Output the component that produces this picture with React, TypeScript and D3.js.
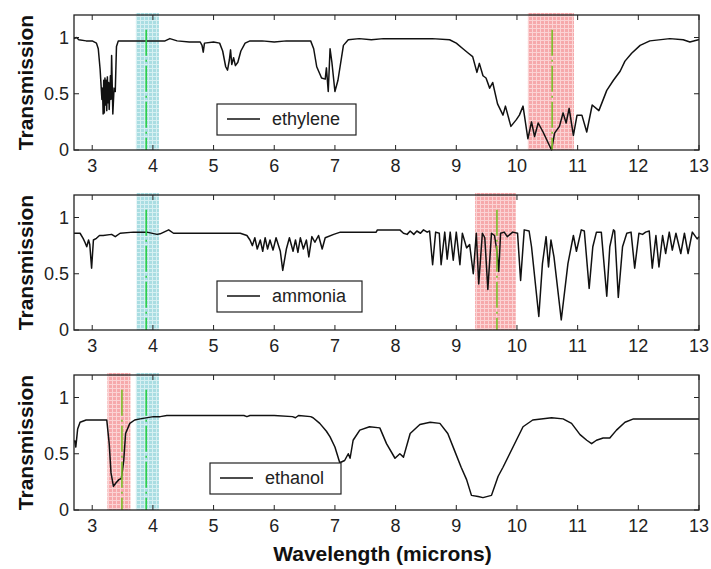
import React from "react";
import * as d3 from "d3";

// [wavelength (microns), transmission]
const ethylene: [number, number][] = [
  [2.7, 0.99], [2.74, 1.0], [2.78, 0.98], [2.9, 0.97], [3.0, 0.97], [3.07, 0.95], [3.1, 0.9],
  [3.13, 0.72], [3.16, 0.45], [3.17, 0.55], [3.18, 0.32], [3.19, 0.62], [3.2, 0.33], [3.21, 0.64],
  [3.22, 0.4], [3.23, 0.62], [3.24, 0.35], [3.25, 0.65], [3.26, 0.42], [3.27, 0.6], [3.28, 0.36],
  [3.3, 0.66], [3.31, 0.45], [3.32, 0.84], [3.34, 0.32], [3.36, 0.55], [3.38, 0.52], [3.4, 0.92],
  [3.43, 0.97], [4.2, 0.97], [4.28, 0.99], [4.4, 0.97], [4.6, 0.96], [4.78, 0.96], [4.81, 0.93],
  [4.83, 0.87], [4.85, 0.95], [5.0, 0.96], [5.1, 0.95], [5.15, 0.88], [5.2, 0.74], [5.23, 0.71],
  [5.26, 0.8], [5.28, 0.89], [5.3, 0.76], [5.33, 0.82], [5.36, 0.75], [5.4, 0.78], [5.45, 0.88],
  [5.52, 0.95], [5.6, 0.97], [5.8, 0.97], [6.0, 0.96], [6.2, 0.97], [6.4, 0.97], [6.6, 0.97],
  [6.65, 0.9], [6.7, 0.74], [6.78, 0.64], [6.84, 0.63], [6.86, 0.73], [6.89, 0.52], [6.92, 0.9],
  [6.95, 0.78], [7.0, 0.52], [7.05, 0.62], [7.14, 0.93], [7.22, 0.98], [7.4, 0.99], [7.6, 0.98],
  [7.8, 0.99], [8.0, 0.99], [8.3, 0.99], [8.6, 0.99], [8.89, 0.98], [9.0, 0.95], [9.11, 0.9],
  [9.2, 0.86], [9.27, 0.83], [9.34, 0.69], [9.38, 0.77], [9.44, 0.66], [9.49, 0.64], [9.55, 0.55],
  [9.6, 0.6], [9.68, 0.41], [9.77, 0.31], [9.81, 0.39], [9.9, 0.21], [9.99, 0.27], [10.04, 0.31],
  [10.1, 0.39], [10.18, 0.1], [10.24, 0.25], [10.29, 0.12], [10.35, 0.24], [10.43, 0.16],
  [10.57, 0.0], [10.62, 0.15], [10.7, 0.21], [10.76, 0.33], [10.81, 0.24], [10.86, 0.37],
  [10.93, 0.13], [10.99, 0.31], [11.07, 0.31], [11.15, 0.16], [11.24, 0.4], [11.35, 0.35],
  [11.48, 0.53], [11.59, 0.62], [11.7, 0.7], [11.78, 0.79], [11.89, 0.86], [12.03, 0.93],
  [12.19, 0.97], [12.52, 0.99], [12.74, 0.98], [12.85, 0.96], [12.99, 0.98], [13.0, 0.98],
];

const ammonia: [number, number][] = [
  [2.7, 0.86], [2.8, 0.86], [2.85, 0.815], [2.88, 0.78], [2.91, 0.74], [2.94, 0.8], [2.96, 0.76],
  [2.99, 0.55], [3.02, 0.8], [3.07, 0.815], [3.12, 0.84], [3.18, 0.84], [3.32, 0.85], [3.38, 0.83],
  [3.46, 0.86], [3.68, 0.87], [3.9, 0.87], [4.07, 0.85], [4.12, 0.855], [4.26, 0.89], [4.34, 0.86],
  [5.44, 0.86], [5.55, 0.84], [5.6, 0.8], [5.64, 0.75], [5.68, 0.82], [5.72, 0.72], [5.77, 0.8],
  [5.81, 0.7], [5.85, 0.82], [5.89, 0.72], [5.93, 0.8], [5.98, 0.71], [6.03, 0.82], [6.1, 0.7],
  [6.14, 0.53], [6.2, 0.72], [6.25, 0.82], [6.31, 0.7], [6.35, 0.8], [6.39, 0.69], [6.43, 0.82],
  [6.48, 0.72], [6.53, 0.8], [6.57, 0.65], [6.62, 0.83], [6.67, 0.78], [6.73, 0.84], [6.79, 0.72],
  [6.84, 0.82], [6.98, 0.85], [7.09, 0.87], [7.68, 0.87], [7.7, 0.89], [8.07, 0.89], [8.13, 0.86],
  [8.19, 0.85], [8.24, 0.88], [8.3, 0.85], [8.35, 0.88], [8.41, 0.86], [8.46, 0.89], [8.52, 0.87],
  [8.56, 0.88], [8.61, 0.58], [8.66, 0.87], [8.72, 0.86], [8.75, 0.58], [8.81, 0.87], [8.85, 0.63],
  [8.9, 0.87], [8.95, 0.62], [9.0, 0.87], [9.06, 0.58], [9.1, 0.86], [9.17, 0.73], [9.22, 0.76],
  [9.28, 0.5], [9.33, 0.86], [9.37, 0.41], [9.43, 0.86], [9.47, 0.82], [9.52, 0.36], [9.58, 0.86],
  [9.63, 0.84], [9.67, 0.7], [9.7, 0.52], [9.73, 0.86], [9.79, 0.87], [9.84, 0.83], [9.93, 0.87],
  [10.01, 0.86], [10.06, 0.44], [10.12, 0.89], [10.2, 0.88], [10.24, 0.74], [10.36, 0.12],
  [10.42, 0.59], [10.48, 0.83], [10.52, 0.56], [10.56, 0.8], [10.61, 0.65], [10.73, 0.09],
  [10.84, 0.59], [10.93, 0.84], [10.98, 0.7], [11.06, 0.89], [11.11, 0.88], [11.19, 0.37],
  [11.25, 0.74], [11.31, 0.87], [11.39, 0.87], [11.48, 0.3], [11.53, 0.74], [11.59, 0.89],
  [11.61, 0.88], [11.67, 0.29], [11.74, 0.74], [11.81, 0.86], [11.88, 0.87], [11.94, 0.55],
  [12.01, 0.86], [12.07, 0.85], [12.12, 0.87], [12.18, 0.88], [12.23, 0.55], [12.29, 0.84],
  [12.34, 0.56], [12.4, 0.84], [12.45, 0.68], [12.51, 0.87], [12.56, 0.71], [12.62, 0.86],
  [12.7, 0.68], [12.76, 0.86], [12.82, 0.68], [12.89, 0.87], [12.97, 0.81], [13.0, 0.83],
];

const ethanol: [number, number][] = [
  [2.71, 0.62], [2.73, 0.56], [2.76, 0.72], [2.8, 0.78], [2.9, 0.8], [3.0, 0.8], [3.1, 0.8],
  [3.24, 0.8], [3.28, 0.59], [3.31, 0.33], [3.35, 0.21], [3.39, 0.24], [3.44, 0.27], [3.48, 0.28],
  [3.52, 0.44], [3.55, 0.68], [3.62, 0.77], [3.7, 0.8], [3.79, 0.81], [4.01, 0.83], [4.12, 0.83],
  [4.23, 0.84], [4.6, 0.84], [5.0, 0.84], [5.5, 0.84], [5.55, 0.83], [5.6, 0.84], [6.0, 0.84],
  [6.3, 0.83], [6.35, 0.82], [6.4, 0.84], [6.6, 0.83], [6.64, 0.82], [6.75, 0.77], [6.86, 0.7],
  [6.92, 0.65], [7.0, 0.56], [7.08, 0.42], [7.16, 0.44], [7.22, 0.5], [7.25, 0.46], [7.3, 0.62],
  [7.41, 0.71], [7.57, 0.74], [7.74, 0.73], [7.85, 0.59], [7.99, 0.46], [8.07, 0.5], [8.13, 0.47],
  [8.24, 0.68], [8.4, 0.76], [8.57, 0.78], [8.73, 0.77], [8.86, 0.68], [8.97, 0.53], [9.08, 0.38],
  [9.17, 0.27], [9.25, 0.13], [9.36, 0.12], [9.44, 0.11], [9.58, 0.13], [9.69, 0.3], [9.77, 0.38],
  [9.88, 0.5], [9.99, 0.62], [10.1, 0.74], [10.26, 0.8], [10.57, 0.82], [10.76, 0.81],
  [10.9, 0.77], [11.04, 0.67], [11.15, 0.62], [11.23, 0.59], [11.31, 0.62], [11.42, 0.64],
  [11.53, 0.64], [11.64, 0.71], [11.78, 0.78], [11.92, 0.81], [12.52, 0.81], [13.0, 0.81],
];

const gasNames = ["ethylene", "ammonia", "ethanol"];
const xTicks = [3, 4, 5, 6, 7, 8, 9, 10, 11, 12, 13];
const yTicks = [0, 0.5, 1];
const yTickLabels = ["0", "0.5", "1"];

// [from, to, laser line] per band, colour by kind
const bandsEthylene: [number, number, number, string][] = [[3.72, 4.1, 3.89, "cyan"], [10.18, 10.94, 10.58, "red"]];
const bandsAmmonia: [number, number, number, string][] = [[3.73, 4.1, 3.89, "cyan"], [9.31, 9.98, 9.67, "red"]];
const bandsEthanol: [number, number, number, string][] = [[3.25, 3.63, 3.49, "red"], [3.72, 4.1, 3.89, "cyan"]];

const W = 711;
const H = 569;
const left = 74;
const right = 699;
const panelH = 135;
const panelTops = [15, 195, 375];
const legends = [
  { x: 217, y: 89, w: 139 },
  { x: 217, y: 86, w: 145 },
  { x: 210, y: 88, w: 131 },
];

function Panel({ data, name, bands, top, legend }: any) {
  const x = d3.scaleLinear().domain([2.7, 13]).range([left, right]);
  const y = d3.scaleLinear().domain([0, 1.2]).range([top + panelH, top]);
  const line = d3.line<[number, number]>().x(d => x(d[0])).y(d => y(d[1]));
  const bottom = top + panelH;
  return (
    <g>
      {bands.map((b: any, i: number) => (
        <rect key={i} x={x(b[0])} y={top - 2} width={x(b[1]) - x(b[0])} height={panelH + 2}
          fill={`url(#pat-${b[3]})`} />
      ))}
      <path d={line(data) || ""} fill="none" stroke="#111" strokeWidth={1.5} strokeLinejoin="round" />
      {bands.map((b: any, i: number) => (
        <line key={i} x1={x(b[2])} x2={x(b[2])} y1={y(1.07)} y2={bottom}
          stroke={b[3] === "red" ? "#7cc02a" : "#2ed04a"} strokeWidth={1.6} strokeDasharray="26,4,2,4" />
      ))}
      <rect x={left} y={top} width={right - left} height={panelH} fill="none" stroke="#222" strokeWidth={1.3} />
      {xTicks.map(t => (
        <g key={t}>
          <line x1={x(t)} x2={x(t)} y1={bottom} y2={bottom - 5} stroke="#222" />
          <line x1={x(t)} x2={x(t)} y1={top} y2={top + 5} stroke="#222" />
          <text x={x(t)} y={bottom + 22} textAnchor="middle" fontSize={18}
            fontFamily="Liberation Sans, Arial, sans-serif" fill="#222">{t}</text>
        </g>
      ))}
      {yTicks.map((t, i) => (
        <g key={t}>
          <line x1={left} x2={left + 5} y1={y(t)} y2={y(t)} stroke="#222" />
          <line x1={right} x2={right - 5} y1={y(t)} y2={y(t)} stroke="#222" />
          <text x={69} y={y(t) + 6} textAnchor="end" fontSize={18}
            fontFamily="Liberation Sans, Arial, sans-serif" fill="#222">{yTickLabels[i]}</text>
        </g>
      ))}
      <rect x={legend.x} y={top + legend.y} width={legend.w} height={31} fill="#fff" stroke="#222" strokeWidth={1.2} />
      <line x1={legend.x + 10} x2={legend.x + 43} y1={top + legend.y + 15} y2={top + legend.y + 15} stroke="#111" strokeWidth={1.3} />
      <text x={legend.x + 55} y={top + legend.y + 21} fontSize={18}
        fontFamily="Liberation Sans, Arial, sans-serif" fill="#222">{name}</text>
      <text transform={`translate(33,${top + panelH / 2}) rotate(-90)`} textAnchor="middle"
        fontSize={21} fontWeight="bold" fontFamily="Liberation Sans, Arial, sans-serif" fill="#111">
        Transmission
      </text>
    </g>
  );
}

export default function App() {
  const datasets = [ethylene, ammonia, ethanol];
  const bandSets = [bandsEthylene, bandsAmmonia, bandsEthanol];
  return (
    <svg width={W} height={H} style={{ position: "absolute", left: 0, top: 0, background: "#fff" }}>
      <defs>
        <pattern id="pat-cyan" width={4} height={4} patternUnits="userSpaceOnUse">
          <rect width={4} height={4} fill="#a9dde2" />
          <path d="M0,0.5H4M0.5,0V4" stroke="#d6f0f2" strokeWidth={1} />
        </pattern>
        <pattern id="pat-red" width={4} height={4} patternUnits="userSpaceOnUse">
          <rect width={4} height={4} fill="#f6a9ab" />
          <path d="M0,0.5H4M0.5,0V4" stroke="#fbd3d4" strokeWidth={1} />
        </pattern>
      </defs>
      {datasets.map((d, i) => (
        <Panel key={i} data={d} name={gasNames[i]} bands={bandSets[i]} top={panelTops[i]} legend={legends[i]} />
      ))}
      <text x={(left + right) / 2 - 4} y={561} textAnchor="middle" fontSize={21} fontWeight="bold"
        fontFamily="Liberation Sans, Arial, sans-serif" fill="#111">
        Wavelength (microns)
      </text>
    </svg>
  );
}
